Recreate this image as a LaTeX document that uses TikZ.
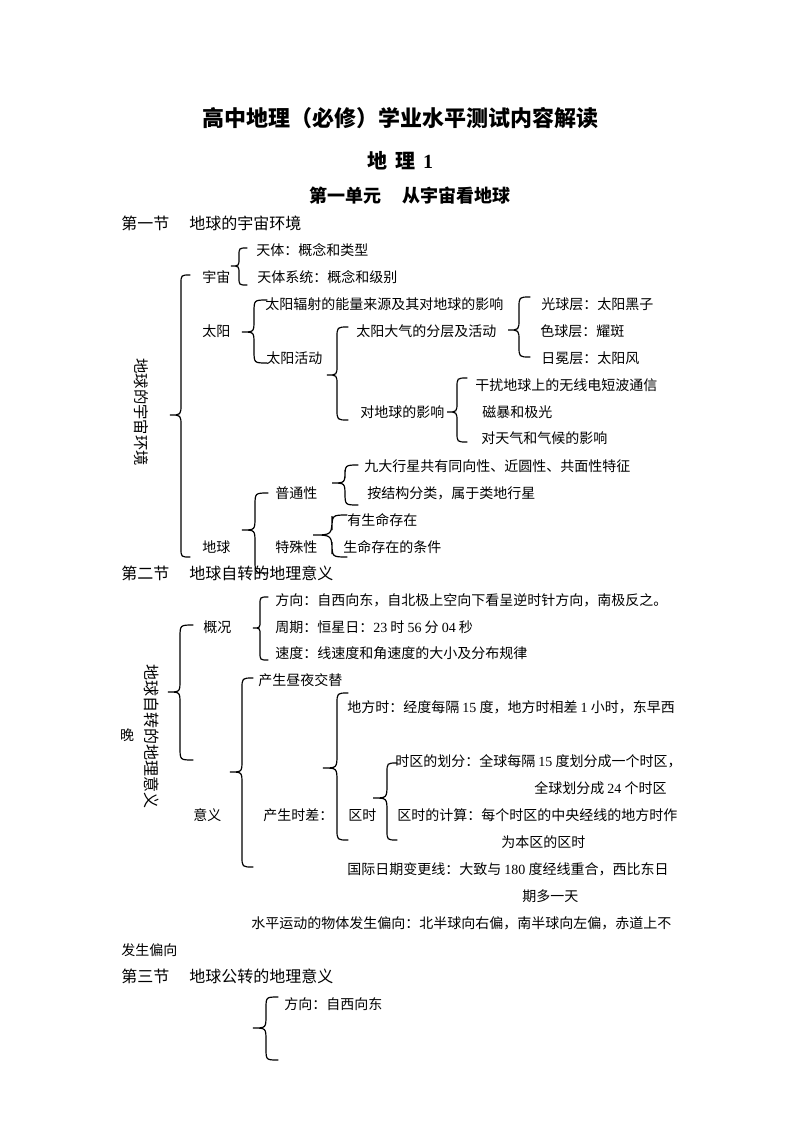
\documentclass[tikz,border=0pt]{standalone}
\usepackage{fontspec}
\setmainfont{Noto Sans CJK SC}
\newfontfamily\latf{Liberation Serif}
\newcommand\numf[1]{{\latf #1}}
% curly brace: #1 tip x, #2 vertical x, #3 end x, #4 top y, #5 tip y, #6 bottom y
\newcommand\curlybr[6]{%
  \draw[bracestyle] (#3,#4) .. controls (#2,#4) .. (#2,{#4+(#3-#2)})
    -- (#2,{#5-(#2-#1)}) .. controls (#2,#5) .. (#1,#5)
    .. controls (#2,#5) .. (#2,{#5+(#2-#1)})
    -- (#2,{#6-(#3-#2)}) .. controls (#2,#6) .. (#3,#6);}
\begin{document}
\begin{tikzpicture}[x=0.75pt,y=-0.75pt,
  txt/.style={anchor=west,inner sep=0pt,font=\fontsize{10.5}{12}\selectfont},
  head/.style={anchor=west,inner sep=0pt,font=\fontsize{12}{14}\selectfont},
  vtxt/.style={inner sep=0pt,rotate=-90,font=\fontsize{11.5}{13}\selectfont},
  bracestyle/.style={line width=0.9pt,line cap=round,black}]
\useasboundingbox[fill=white] (0,0) rectangle (800,1132);

% titles
\node[inner sep=0pt,font=\fontsize{16.5}{18}\selectfont\bfseries] (title) at (400,118) {高中地理（必修）学业水平测试内容解读};
\node[inner sep=0pt,font=\fontsize{15}{17}\selectfont\bfseries] (sub) at (400,161) {地\hspace{6pt}理\hspace{6pt}\numf{1}};
\node[inner sep=0pt,font=\fontsize{13.5}{15}\selectfont\bfseries] (unit) at (410,196) {第一单元\hspace{1.2em}从宇宙看地球};

% section 1
\node[head] (sec1) at (121,223) {第一节\hspace{1.25em}地球的宇宙环境};
\node[vtxt] (s1v) at (141,412) {地球的宇宙环境};
\node[txt] (yz) at (202,277) {宇宙};
\node[txt] (tt1) at (256,250) {天体：概念和类型};
\node[txt] (tt2) at (257,277) {天体系统：概念和级别};
\node[txt] (ty) at (202,331) {太阳};
\node[txt] (ty1) at (265,304) {太阳辐射的能量来源及其对地球的影响};
\node[txt] (ty2) at (266,358) {太阳活动};
\node[txt] (dq) at (356,331) {太阳大气的分层及活动};
\node[txt] (gq1) at (541,304) {光球层：太阳黑子};
\node[txt] (gq2) at (540,331) {色球层：耀斑};
\node[txt] (gq3) at (541,358) {日冕层：太阳风};
\node[txt] (yx) at (360,412) {对地球的影响};
\node[txt] (yx1) at (475,385) {干扰地球上的无线电短波通信};
\node[txt] (yx2) at (482,412) {磁暴和极光};
\node[txt] (yx3) at (481,438) {对天气和气候的影响};
\node[txt] (dqiu) at (202,547) {地球};
\node[txt] (pt) at (275,493) {普通性};
\node[txt] (pt1) at (364,466) {九大行星共有同向性、近圆性、共面性特征};
\node[txt] (pt2) at (367,493) {按结构分类，属于类地行星};
\node[txt] (ts) at (275,547) {特殊性};
\node[txt] (ts1) at (347,520) {有生命存在};
\node[txt] (ts2) at (343,547) {生命存在的条件};

\curlybr{170}{181}{190}{275}{415}{557}
\curlybr{231}{239}{247}{248}{266}{285}
\curlybr{242}{254}{267}{300}{332}{363}
\curlybr{327}{337}{348}{327}{375}{420}
\curlybr{508}{519}{530}{297}{330}{357}
\curlybr{447}{457}{467}{378}{412}{442}
\curlybr{242}{255}{268}{493}{530}{573}
\curlybr{332}{345}{358}{465}{483}{505}
\curlybr{313}{332}{347}{515}{535}{557}

% section 2
\node[head] (sec2) at (121,573) {第二节\hspace{1.25em}地球自转的地理意义};
\node[vtxt,font=\fontsize{12}{14}\selectfont] (s2v) at (152,736) {地球自转的地理意义};
\node[txt,anchor=center] (wan) at (127,735) {晚};
\node[txt] (gk) at (203,627) {概况};
\node[txt] (gk1) at (275,600) {方向：自西向东，自北极上空向下看呈逆时针方向，南极反之。};
\node[txt] (gk2) at (275,627) {周期：恒星日：\numf{23} 时 \numf{56} 分 \numf{04} 秒};
\node[txt] (gk3) at (275,653) {速度：线速度和角速度的大小及分布规律};
\node[txt] (yy) at (193,815) {意义};
\node[txt] (zy) at (258,680) {产生昼夜交替};
\node[txt] (sc) at (263,815) {产生时差：};
\node[txt] (dfs) at (347,707) {地方时：经度每隔 \numf{15} 度，地方时相差 \numf{1} 小时，东早西};
\node[txt] (qs) at (348,815) {区时};
\node[txt] (qs1) at (395,761) {时区的划分：全球每隔 \numf{15} 度划分成一个时区，};
\node[txt] (qs1b) at (534,788) {全球划分成 \numf{24} 个时区};
\node[txt] (qs2) at (397,815) {区时的计算：每个时区的中央经线的地方时作};
\node[txt] (qs2b) at (501,842) {为本区的区时};
\node[txt] (rq) at (347,869) {国际日期变更线：大致与 \numf{180} 度经线重合，西比东日};
\node[txt] (rqb) at (522,896) {期多一天};
\node[txt] (py) at (251,923) {水平运动的物体发生偏向：北半球向右偏，南半球向左偏，赤道上不};
\node[txt] (pyb) at (121,950) {发生偏向};

\curlybr{253}{260}{268}{597}{628}{660}
\curlybr{168}{180}{193}{625}{692}{760}
\curlybr{230}{242}{253}{678}{772}{867}
\curlybr{323}{337}{348}{693}{768}{840}
\curlybr{373}{387}{397}{763}{798}{840}

% section 3
\node[head] (sec3) at (121,976) {第三节\hspace{1.25em}地球公转的地理意义};
\node[txt] (gz1) at (284,1004) {方向：自西向东};
\curlybr{253}{266}{278}{997}{1028}{1060}
\end{tikzpicture}
\end{document}
